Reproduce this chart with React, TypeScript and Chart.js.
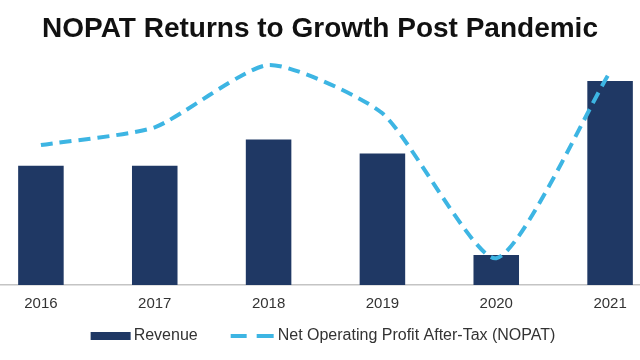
import React, { useEffect, useRef } from "react";
import { Chart, registerables } from "chart.js";

Chart.register(...registerables);

const years = ["2016", "2017", "2018", "2019", "2020", "2021"];
// Relative index values (no axis shown in source)
const revenue = [53.0, 53.0, 64.7, 58.5, 13.3, 90.7];
const nopat = [62.2, 70.1, 97.8, 76.3, 11.9, 94.8];
const titleText = "NOPAT Returns to Growth Post Pandemic";

const NAVY = "#1f3864";
const BLUE = "#3db5e3";
const FONT = "'Liberation Sans', Arial, sans-serif";

const CANVAS_W = 694;
const SHIFT = 27; // canvas extends 27px beyond each side of the 640px frame

const textPlugin = {
  id: "titleAndLegend",
  afterDraw(chart: any) {
    const ctx = chart.ctx as CanvasRenderingContext2D;
    const ds = chart.data.datasets;
    const cx = chart.width / 2;
    ctx.save();
    // Title
    ctx.font = `bold 28px ${FONT}`;
    ctx.textAlign = "center";
    ctx.textBaseline = "middle";
    ctx.fillStyle = "#111111";
    ctx.fillText(titleText, cx, 29);
    // Legend
    ctx.textAlign = "left";
    ctx.font = `16px ${FONT}`;
    const t1 = ds[1].label as string;
    const t2 = ds[0].label as string;
    const w1 = ctx.measureText(t1).width;
    const w2 = ctx.measureText(t2).width;
    const icon1 = 40, gap1 = 3, between = 33, icon2 = 43, gap2 = 4;
    const total = icon1 + gap1 + w1 + between + icon2 + gap2 + w2;
    let x = cx - total / 2 + 3;
    const y = 336;
    ctx.fillStyle = NAVY;
    ctx.fillRect(x, y - 4, icon1, 8);
    x += icon1 + gap1;
    ctx.fillStyle = "#333333";
    ctx.fillText(t1, x, y);
    x += w1 + between;
    ctx.strokeStyle = BLUE;
    ctx.lineWidth = 4;
    ctx.beginPath();
    ctx.moveTo(x, y);
    ctx.lineTo(x + 16, y);
    ctx.moveTo(x + 26, y);
    ctx.lineTo(x + icon2, y);
    ctx.stroke();
    x += icon2 + gap2;
    ctx.fillStyle = "#333333";
    ctx.fillText(t2, x, y);
    ctx.restore();
  },
};

export default function App() {
  const ref = useRef<HTMLCanvasElement | null>(null);
  useEffect(() => {
    if (!ref.current) return;
    const chart = new Chart(ref.current, {
      type: "bar",
      data: {
        labels: years,
        datasets: [
          {
            type: "line",
            label: "Net Operating Profit After-Tax (NOPAT)",
            data: nopat,
            borderColor: BLUE,
            backgroundColor: BLUE,
            borderWidth: 4,
            borderDash: [12, 7],
            pointRadius: 0,
            tension: 0.2,
            order: 0,
            clip: false,
          } as any,
          {
            type: "bar",
            label: "Revenue",
            data: revenue,
            backgroundColor: NAVY,
            categoryPercentage: 0.8,
            barPercentage: 0.5,
            order: 1,
          },
        ],
      },
      options: {
        animation: false,
        responsive: false,
        maintainAspectRatio: false,
        layout: { padding: { left: 11, right: 0, top: 60, bottom: 45 } },
        plugins: {
          legend: { display: false },
          tooltip: { enabled: false },
          title: { display: false },
        },
        scales: {
          x: {
            grid: { display: false },
            border: { display: true, color: "#c4c4c4", width: 1.5 },
            ticks: { color: "#333333", font: { family: FONT, size: 15 }, padding: 2 },
          },
          y: { display: false, min: 0, max: 100 },
        },
      },
      plugins: [textPlugin],
    });
    return () => chart.destroy();
  }, []);
  return (
    <div style={{ position: "absolute", left: 0, top: 0, width: 640, height: 360, overflow: "hidden", background: "#fff" }}>
      <canvas
        ref={ref}
        width={CANVAS_W}
        height={360}
        style={{ display: "block", width: CANVAS_W, height: 360, marginLeft: -SHIFT }}
      />
    </div>
  );
}
